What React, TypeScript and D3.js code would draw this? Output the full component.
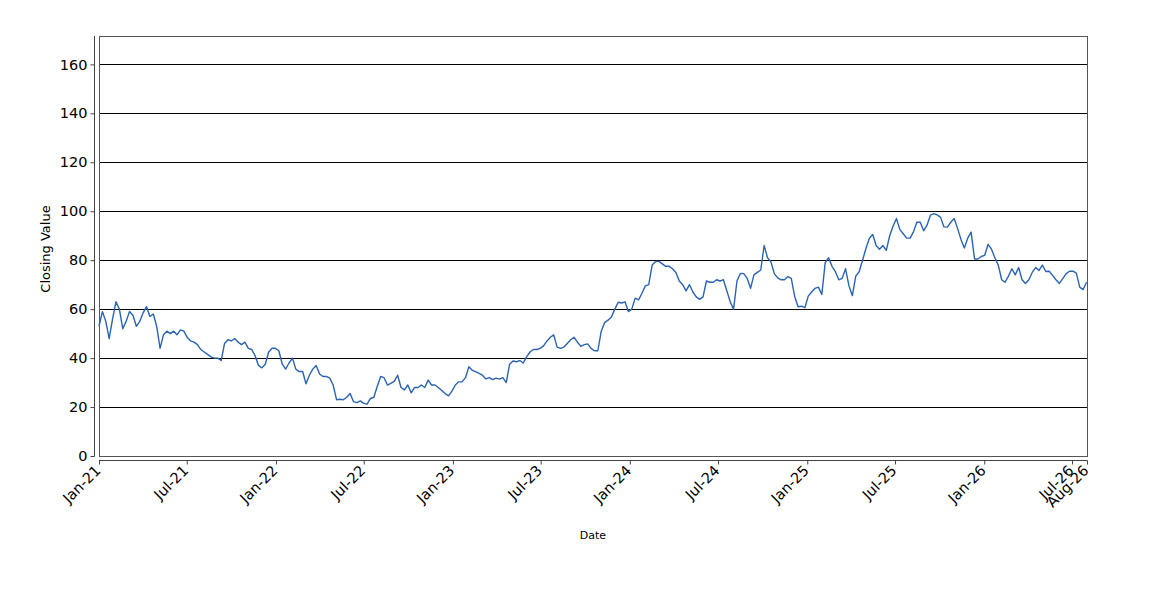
import React, { useEffect, useRef } from "react";
import * as d3 from "d3";

// weekly closing values, first week starting 1 Jan 2021
const startDate = new Date(2021, 0, 1);
const closing: number[] = [
  53, 59, 55, 48, 56, 63, 60, 52, 55, 59,
  57.5, 53, 55, 58.5, 61, 57, 58, 53, 44, 49.5,
  51, 50, 51, 49.5, 51.5, 51, 48.5, 47, 46.5, 45.5,
  43.5, 42.5, 41.5, 40.5, 40, 40, 39, 46, 47.5, 47,
  48, 46.5, 45.5, 46.5, 44, 43.5, 41, 37, 36, 37.5,
  42.5, 44, 44,
  43, 37.5, 35.5, 38, 40, 35.5, 34.5, 34.5, 29.5, 33,
  35.5, 37, 33.5, 32.5, 32.5, 31.8, 29, 23, 23.2, 23,
  24, 25.5, 22.2, 21.8, 22.5, 21.5, 21.2, 23.5, 24, 28.5,
  32.5, 32, 29, 29.7, 30.5, 33, 28, 27, 29, 25.8,
  28, 28, 29, 28, 31, 29, 29, 28, 26.8, 25.5,
  24.6, 26.5, 29, 30.3, 30.3, 32, 36.5, 35, 34.5, 33.8,
  33, 31.5, 32, 31.2, 31.8, 31.4, 32, 30, 37.5, 38.8,
  38.5, 39, 38, 40.5, 42.5, 43.5, 43.5, 44, 45, 47,
  48.5, 49.5, 44.5, 44, 44.5, 46, 47.5, 48.5, 46.5, 44.8,
  45.5, 45.8, 44, 43, 43, 51, 54.5, 55.5, 56.8, 60,
  62.8, 62.5, 63, 59, 60, 64.5, 63.8, 66.5, 69.5, 70,
  78, 79.5, 79.5, 78.5, 77.5, 77.5, 76.5, 75, 71.5, 70,
  67.5, 70, 67, 65, 64, 65, 71.5, 71, 71, 72,
  71.5, 72, 67.5, 63, 60, 71.5, 74.6, 74.5, 72.6, 68.5,
  74, 75, 76, 86, 81, 79.3, 74.5, 72.8, 72, 72,
  73.3, 72.6, 65.2, 61, 61.2, 60.6, 65.3, 67, 68.5, 69,
  66, 79, 81, 77.5, 75.3, 72, 72.6, 76.5, 69.5, 65.5,
  73.5, 75.3, 80, 84.8, 89, 90.5, 86, 84.5, 86, 84,
  90, 94, 97, 92.5, 90.8, 89, 89, 91.6, 95.5, 95.5,
  92, 94.3, 98.4, 99, 98.5, 97.5, 93.6, 93.5, 95.5, 97,
  93, 88.5, 85, 89, 91.5, 80.5, 80.5, 81.5, 82, 86.5,
  84.5, 81, 78, 72, 71, 73.5, 76.5, 74, 77, 72,
  70.5, 72, 75, 77, 75.8, 78, 75.4, 75.5, 73.8, 72,
  70.5, 72.5, 74.5, 75.5, 75.5, 74.7, 69, 68, 71,
];

const tickDates: Date[] = [
  new Date(2021, 0, 1), new Date(2021, 6, 1),
  new Date(2022, 0, 1), new Date(2022, 6, 1),
  new Date(2023, 0, 1), new Date(2023, 6, 1),
  new Date(2024, 0, 1), new Date(2024, 6, 1),
  new Date(2025, 0, 1), new Date(2025, 6, 1),
  new Date(2026, 0, 1), new Date(2026, 6, 1),
  new Date(2026, 7, 1),
];
const yTicks = [0, 20, 40, 60, 80, 100, 120, 140, 160];

const W = 1150;
const H = 600;
const plot = { left: 99, right: 1087, top: 36, bottom: 456 };
const font = "'DejaVu Sans', sans-serif";

const App: React.FC = () => {
  const ref = useRef<SVGSVGElement | null>(null);

  useEffect(() => {
    const svg = d3.select(ref.current);
    svg.selectAll("*").remove();

    const data = closing.map((v, i) => ({ date: d3.timeDay.offset(startDate, i * 7), value: v }));

    const x = d3
      .scaleTime()
      .domain([startDate, new Date(2026, 7, 1)])
      .range([plot.left, plot.right]);
    const y = d3.scaleLinear().domain([0, 171.6]).range([plot.bottom, plot.top]);

    svg.append("rect").attr("width", W).attr("height", H).attr("fill", "#fff");

    // gridlines
    svg
      .append("g")
      .selectAll("line")
      .data(yTicks.filter(t => t > 0))
      .enter()
      .append("line")
      .attr("x1", plot.left)
      .attr("x2", plot.right)
      .attr("y1", d => Math.round(y(d)) + 0.5)
      .attr("y2", d => Math.round(y(d)) + 0.5)
      .attr("stroke", "#000")
      .attr("stroke-width", 1);

    // plot border
    svg
      .append("rect")
      .attr("x", plot.left + 0.5)
      .attr("y", plot.top + 0.5)
      .attr("width", plot.right - plot.left)
      .attr("height", plot.bottom - plot.top)
      .attr("fill", "none")
      .attr("stroke", "#555");

    // series
    const line = d3
      .line<{ date: Date; value: number }>()
      .x(d => x(d.date))
      .y(d => y(d.value));
    svg
      .append("path")
      .datum(data)
      .attr("d", line)
      .attr("fill", "none")
      .attr("stroke", "#2A63B2")
      .attr("stroke-width", 1.4)
      .attr("stroke-linejoin", "round");

    // y axis
    const yAxis = svg
      .append("g")
      .attr("transform", `translate(${plot.left - 4.5},0)`)
      .call(d3.axisLeft(y).tickValues(yTicks).tickSize(4).tickSizeOuter(0).tickPadding(3));
    yAxis.select(".domain").attr("stroke", "#444").attr("d", `M0,${plot.top}V${plot.bottom + 0.5}`);
    yAxis.selectAll(".tick line").attr("stroke", "#444");
    yAxis
      .selectAll(".tick text")
      .attr("font-family", font)
      .attr("font-size", 14.5)
      .attr("fill", "#000");

    // x axis
    const xAxis = svg
      .append("g")
      .attr("transform", `translate(0,${plot.bottom + 4.5})`)
      .call(
        d3
          .axisBottom(x)
          .tickValues(tickDates)
          .tickFormat(d => d3.timeFormat("%b-%y")(d as Date))
          .tickSize(4)
          .tickSizeOuter(0)
      );
    xAxis.select(".domain").attr("stroke", "#444").attr("d", `M${plot.left},0H${plot.right + 0.5}`);
    xAxis.selectAll(".tick line").attr("stroke", "#444");
    xAxis
      .selectAll(".tick text")
      .attr("font-family", font)
      .attr("font-size", 14.5)
      .attr("fill", "#000")
      .attr("text-anchor", "end")
      .attr("y", 0)
      .attr("dy", 0)
      .attr("transform", "translate(2,11) rotate(-45)");

    // axis titles
    svg
      .append("text")
      .attr("transform", `translate(50,249) rotate(-90)`)
      .attr("text-anchor", "middle")
      .attr("font-family", font)
      .attr("font-size", 13)
      .text("Closing Value");
    svg
      .append("text")
      .attr("x", 593)
      .attr("y", 539)
      .attr("text-anchor", "middle")
      .attr("font-family", font)
      .attr("font-size", 11)
      .text("Date");
  }, []);

  return (
    <svg
      ref={ref}
      width={W}
      height={H}
      style={{ position: "absolute", left: 0, top: 0, display: "block" }}
    ></svg>
  );
};

export default App;
